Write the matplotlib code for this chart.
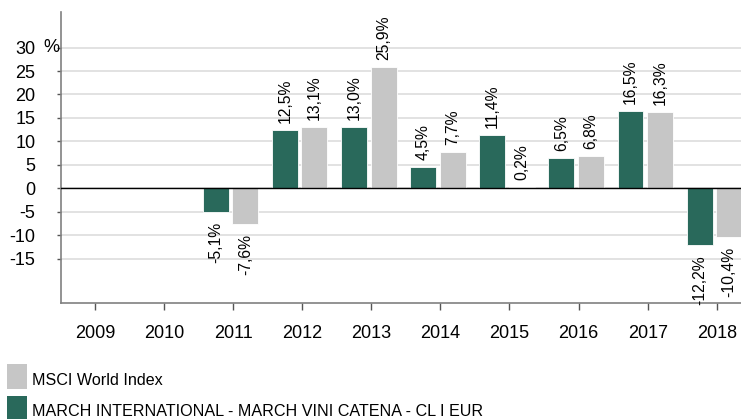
import matplotlib
matplotlib.use("Agg")
import matplotlib.pyplot as plt
import numpy as np
from matplotlib.patches import Rectangle

plt.rcParams['font.family'] = ['Liberation Sans', 'DejaVu Sans']

years = ["2009", "2010", "2011", "2012", "2013", "2014", "2015", "2016", "2017", "2018"]
fund_values = [None, None, -5.1, 12.5, 13.0, 4.5, 11.4, 6.5, 16.5, -12.2]
msci_values = [None, None, -7.6, 13.1, 25.9, 7.7, 0.2, 6.8, 16.3, -10.4]
fund_name = "MARCH INTERNATIONAL - MARCH VINI CATENA - CL I EUR"
msci_name = "MSCI World Index"
yticks = [-15, -10, -5, 0, 5, 10, 15, 20, 25, 30]

GREEN = "#29695B"
GRAY = "#C6C6C6"

W, H = 741, 419
fig = plt.figure(figsize=(W / 100, H / 100), dpi=100)
ax = fig.add_axes([61 / W, 1 - 302.7 / H, 1 - 61 / W, (302.7 - 11.7) / H])

x = np.arange(len(years))
bw = 0.376
shift = -0.036
off = 0.213

def fmt(v):
    return f"{v:.1f}".replace(".", ",") + "%"

for vals, sign, color in [(fund_values, -1, GREEN), (msci_values, 1, GRAY)]:
    for i, v in enumerate(vals):
        if v is None:
            continue
        xc = x[i] + shift + sign * off
        ax.bar(xc, v, width=bw, color=color, edgecolor="white", linewidth=0.6, zorder=3)
        if v >= 0:
            ax.annotate(fmt(v), (xc, v), xytext=(0, 5), textcoords="offset points",
                        rotation=90, ha="center", va="bottom", fontsize=11.3, color="black")
        else:
            ax.annotate(fmt(v), (xc, v), xytext=(0, -7), textcoords="offset points",
                        rotation=90, ha="center", va="top", fontsize=11.3, color="black")

ax.set_xlim(-0.49, 9.35)
ax.set_ylim(-24.4, 37.65)

for t in yticks:
    ax.axhline(t, color="#E2E2E2", linewidth=1.4, zorder=1)
ax.axhline(0, color="black", linewidth=1.0, zorder=4)

ax.set_yticks(yticks)
ax.set_yticklabels([str(t) for t in yticks], fontsize=13)
ax.tick_params(axis="y", length=3, pad=15.5, color="#555555", width=1)
ax.set_xticks(x)
ax.set_xticklabels(years, fontsize=13)
ax.tick_params(axis="x", length=5, pad=11, color="#555555", width=1)

for s in ["top", "right"]:
    ax.spines[s].set_visible(False)
for s in ["left", "bottom"]:
    ax.spines[s].set_color("#808080")
    ax.spines[s].set_linewidth(1.2)

ax.text(-0.49 - 18 / 69.1, 30, "%", transform=ax.transData, ha="left", va="center",
        fontsize=13, clip_on=False)

# legend
fig.patches.append(Rectangle((7 / W, 1 - 389 / H), 20 / W, 25 / H, transform=fig.transFigure,
                             facecolor=GRAY, edgecolor="none"))
fig.text(32 / W, 1 - 380 / H, msci_name, ha="left", va="center", fontsize=11.6)
fig.patches.append(Rectangle((7 / W, 1 - 422 / H), 20 / W, 26 / H, transform=fig.transFigure,
                             facecolor=GREEN, edgecolor="none"))
fig.text(32 / W, 1 - 411 / H, fund_name, ha="left", va="center", fontsize=11.6)

fig.savefig("out.png", dpi=100)
